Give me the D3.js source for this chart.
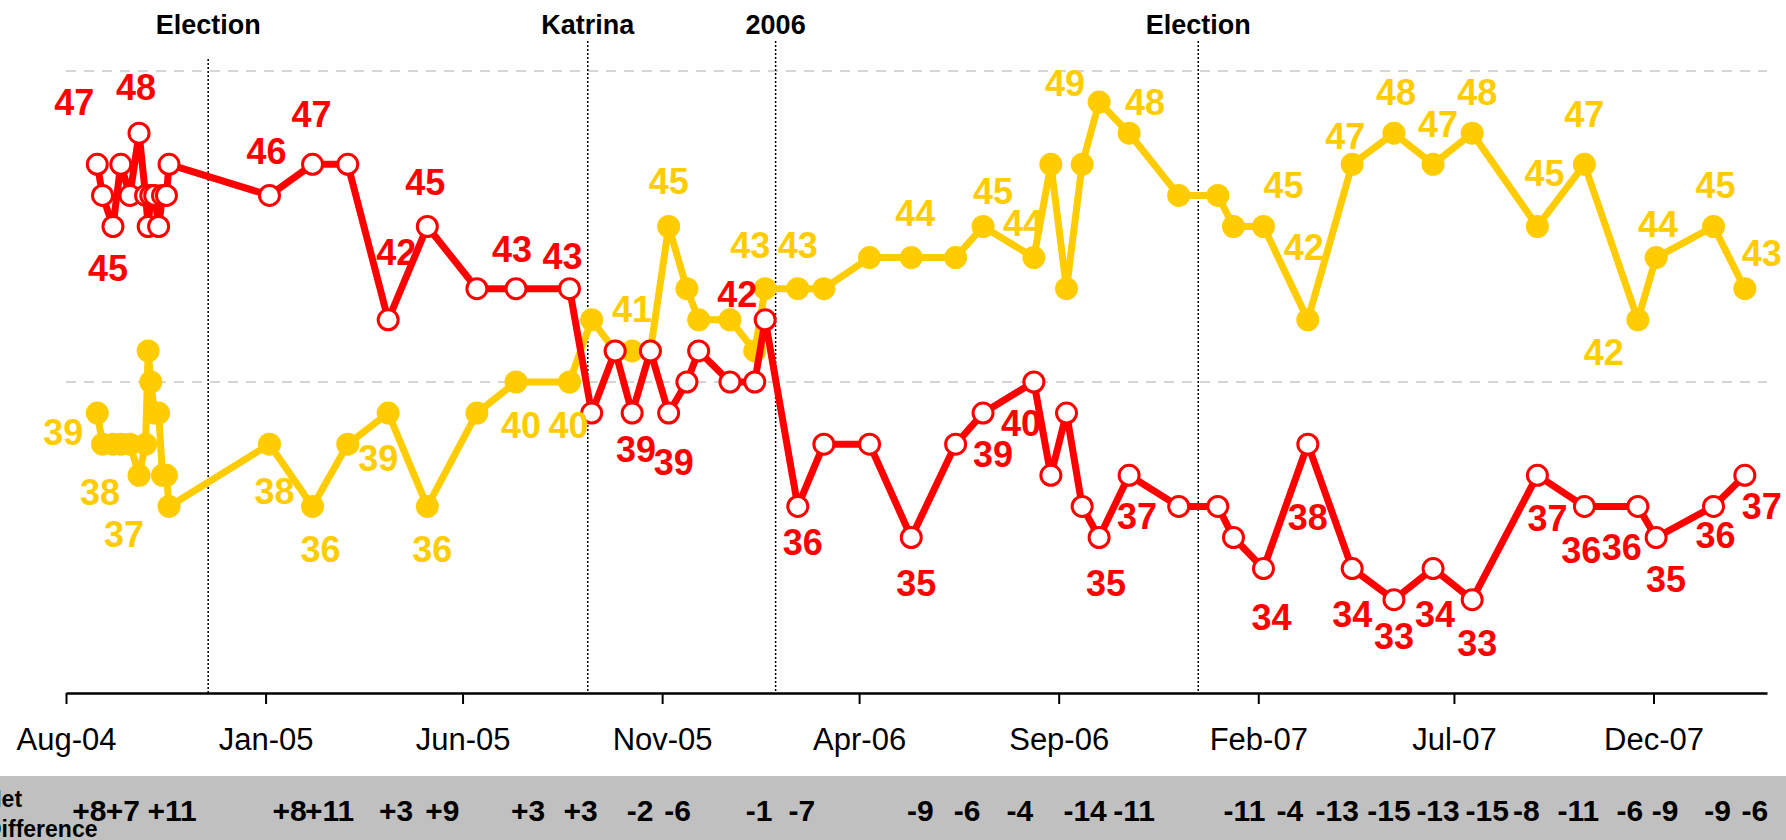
<!DOCTYPE html>
<html>
<head>
<meta charset="utf-8">
<script src="https://cdn.jsdelivr.net/npm/d3@7"></script>
<style>
  body { margin: 0; background: #fff; }
  svg { display: block; font-family: "Liberation Sans", Arial, sans-serif; }
</style>
</head>
<body>
<svg id="chart" width="1786" height="840"></svg>
<script>
// poll dates (shared by both series)
var dates = [
  "2004-08-25","2004-08-29","2004-09-06","2004-09-12","2004-09-19","2004-09-26","2004-10-01",
  "2004-10-03","2004-10-05","2004-10-08","2004-10-11","2004-10-14","2004-10-17","2004-10-19",
  "2005-01-04","2005-02-06","2005-03-05","2005-04-05","2005-05-05","2005-06-12","2005-07-12",
  "2005-08-22","2005-09-08","2005-09-26","2005-10-09","2005-10-23","2005-11-06","2005-11-20",
  "2005-11-29","2005-12-23",
  "2006-01-11","2006-01-19","2006-02-13","2006-03-05","2006-04-09","2006-05-11","2006-06-14",
  "2006-07-05","2006-08-13","2006-08-26","2006-09-07","2006-09-19","2006-10-02","2006-10-25",
  "2006-12-02",
  "2007-01-01","2007-01-13","2007-02-05","2007-03-11","2007-04-14","2007-05-16","2007-06-15",
  "2007-07-15","2007-09-03","2007-10-09","2007-11-19","2007-12-03",
  "2008-01-16","2008-02-09"
];

var redVals = [
  47,46,45,47,46,48,46,45,46,46,45,46,46,47,
  46,47,47,42,45,43,43,43,39,41,39,41,39,40,41,40,
  40,42,36,38,38,35,38,39,40,37,39,36,35,37,36,
  36,35,34,38,34,33,34,33,37,36,36,35,
  36,37
];

var goldVals = [
  39,38,38,38,38,37,38,41,40,39,39,37,37,36,
  38,36,38,39,36,39,40,40,42,41,41,41,45,43,42,42,
  41,43,43,43,44,44,44,45,44,47,43,47,49,48,46,
  46,45,45,42,47,48,47,48,45,47,42,44,
  45,43
];

var tickLabels = ["Aug-04","Jan-05","Jun-05","Nov-05","Apr-06","Sep-06","Feb-07","Jul-07","Dec-07"];
var gridValues = [40, 50];

var eventDates = ["2004-11-18","2005-09-05","2006-01-27","2006-12-17"];
var eventNames = ["Election","Katrina","2006","Election"];

// which points carry value labels / net difference labels
var labelled = [0,2,5,14,15,17,18,20,21,24,26,31,32,35,37,38,42,43,47,48,49,50,51,52,53,54,55,56,57,58];
var netIdx   = [0,2,13,14,15,17,18,20,21,24,26,31,32,35,37,38,42,43,47,48,49,50,51,52,53,54,55,56,57,58];

// label nudges (layout only)
var redOff = [[-23,-62],[-5,41],[-3,-46],[-3,-44],[-1,-50],[8,-68],[-2,-45],[-4,-40],[-7,-33],[4,36],
  [5,49],[-28,-26],[5,36],[5,45],[10,41],[-13,41],[7,45],[8,41],[8,48],[0,73],
  [0,45],[0,36],[2,45],[5,43],[10,43],[-3,44],[-16,41],[10,41],[2,29],[17,31]];
var goldOff = [[-34,19],[-13,48],[-15,59],[5,47],[8,43],[-10,45],[5,43],[5,43],[-1,43],[0,-42],
  [0,-46],[-15,-44],[0,-44],[4,-45],[10,-36],[-11,-35],[-34,-19],[16,-31],[20,-42],[-4,-73],
  [-7,-28],[2,-41],[5,-40],[5,-41],[7,-54],[0,-50],[-34,32],[2,-34],[2,-42],[17,-36]];
var netOff = [-8,10,3,20,17,8,15,12,11,8,9,-6,4,9,-16,-14,-14,5,-19,-18,-15,-5,5,15,-11,-6,-8,9,4,10];

var RED = "#ff0000", GOLD = "#ffcc00";

var parse = d3.timeParse("%Y-%m-%d"),
    parseTick = d3.timeParse("%b-%y");

var x = d3.scaleTime()
    .domain([parse("2004-08-01"), parse("2008-02-26")])
    .range([66, 1767]);
var y = d3.scaleLinear()
    .domain([30, 50])
    .range([693, 71]);

var svg = d3.select("#chart");

// grey band for the net difference row
svg.append("rect")
    .attr("x", 0).attr("y", 776)
    .attr("width", 1786).attr("height", 64)
    .attr("fill", "#c0c0c0");

// dashed gridlines
svg.selectAll(".grid")
    .data(gridValues)
  .enter().append("line")
    .attr("class", "grid")
    .attr("x1", x.range()[0]).attr("x2", x.range()[1])
    .attr("y1", function(d){ return y(d); })
    .attr("y2", function(d){ return y(d); })
    .attr("stroke", "#c8c8c8")
    .attr("stroke-width", 1.5)
    .attr("stroke-dasharray", "10,8");

// event markers
var ev = svg.selectAll(".event")
    .data(eventDates)
  .enter().append("g")
    .attr("class", "event");
ev.append("line")
    .attr("x1", function(d){ return x(parse(d)); })
    .attr("x2", function(d){ return x(parse(d)); })
    .attr("y1", function(d, i){ return i == 0 ? 59 : 41; })
    .attr("y2", y(30))
    .attr("stroke", "#000")
    .attr("stroke-width", 1.5)
    .attr("stroke-dasharray", "2,2");
ev.append("text")
    .attr("x", function(d){ return x(parse(d)); })
    .attr("y", 34)
    .attr("text-anchor", "middle")
    .attr("font-size", 27)
    .attr("font-weight", "bold")
    .text(function(d, i){ return eventNames[i]; });

// x axis
var xAxis = d3.axisBottom(x)
    .tickValues(tickLabels.map(function(t){ return parseTick(t); }))
    .tickFormat(d3.timeFormat("%b-%y"))
    .tickSize(11)
    .tickSizeOuter(0);
var gx = svg.append("g")
    .attr("transform", "translate(0," + y(30) + ")")
    .call(xAxis)
    .attr("font-family", "'Liberation Sans', Arial, sans-serif")
    .attr("font-size", 31);
gx.select(".domain").attr("stroke", "#000").attr("stroke-width", 2.5);
gx.selectAll(".tick line").attr("stroke", "#000").attr("stroke-width", 2);
gx.selectAll(".tick text").attr("fill", "#000").attr("y", 35);

var idx = d3.range(dates.length);

function drawSeries(vals, color, filled) {
  var line = d3.line()
      .x(function(i){ return x(parse(dates[i])); })
      .y(function(i){ return y(vals[i]); });

  svg.append("path")
      .datum(idx)
      .attr("d", line)
      .attr("fill", "none")
      .attr("stroke", color)
      .attr("stroke-width", 7)
      .attr("stroke-linejoin", "round");

  svg.append("g").selectAll("circle")
      .data(idx)
    .enter().append("circle")
      .attr("cx", function(i){ return x(parse(dates[i])); })
      .attr("cy", function(i){ return y(vals[i]); })
      .attr("r", filled ? 11.5 : 10)
      .attr("fill", filled ? color : "#fff")
      .attr("stroke", filled ? "none" : color)
      .attr("stroke-width", 3);
}

function drawLabels(vals, color, off) {
  svg.append("g").selectAll("text")
      .data(labelled)
    .enter().append("text")
      .attr("x", function(i, k){ return x(parse(dates[i])) + off[k][0]; })
      .attr("y", function(i, k){ return y(vals[i]) + off[k][1] + 13; })
      .attr("text-anchor", "middle")
      .attr("font-size", 36)
      .attr("font-weight", "bold")
      .attr("fill", color)
      .text(function(i){ return vals[i]; });
}

drawSeries(goldVals, GOLD, true);
drawSeries(redVals, RED, false);
drawLabels(goldVals, GOLD, goldOff);
drawLabels(redVals, RED, redOff);

// net difference row
svg.append("g").selectAll("text")
    .data(netIdx)
  .enter().append("text")
    .attr("x", function(i, k){ return x(parse(dates[i])) + netOff[k]; })
    .attr("y", 821)
    .attr("text-anchor", "middle")
    .attr("font-size", 30)
    .attr("font-weight", "bold")
    .attr("fill", "#000")
    .text(function(i){
      var v = redVals[i] - goldVals[i];
      return (v > 0 ? "+" : "-") + Math.abs(v);
    });

// row title, partly off the left edge as in the original
var netTitle = svg.append("text")
    .attr("font-size", 23)
    .attr("font-weight", "bold");
netTitle.append("tspan").attr("x", -15).attr("y", 807).text("Net");
netTitle.append("tspan").attr("x", -15).attr("y", 837).text("Difference");
</script>
</body>
</html>
